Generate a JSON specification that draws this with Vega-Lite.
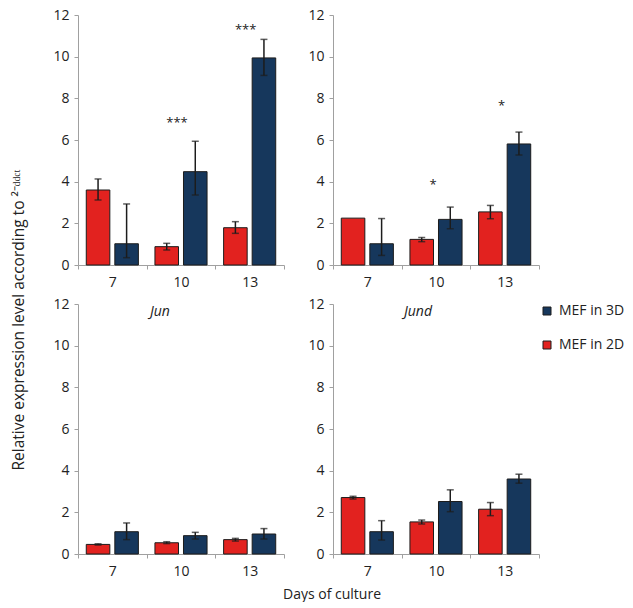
{
  "$schema": "https://vega.github.io/schema/vega-lite/v6.json",
  "padding": {"left": 12, "top": 8, "right": 0, "bottom": 0},
  "title": {"text": "Relative expression level according to ²⁻ᵈᵈᶜᵗ", "orient": "left", "anchor": "middle", "fontSize": 15.5, "fontWeight": "normal", "color": "#222", "offset": 25, "dx": -15, "font": "Open Sans"},
  "datasets": {
    "bars": [
      {"panel": "TL", "day": 7, "group": "MEF in 2D", "value": 3.6, "lo": 3.12, "hi": 4.13},
      {"panel": "TL", "day": 7, "group": "MEF in 3D", "value": 1.02, "lo": 0.35, "hi": 2.93},
      {"panel": "TL", "day": 10, "group": "MEF in 2D", "value": 0.88, "lo": 0.72, "hi": 1.04},
      {"panel": "TL", "day": 10, "group": "MEF in 3D", "value": 4.48, "lo": 3.36, "hi": 5.94},
      {"panel": "TL", "day": 13, "group": "MEF in 2D", "value": 1.79, "lo": 1.52, "hi": 2.08},
      {"panel": "TL", "day": 13, "group": "MEF in 3D", "value": 9.94, "lo": 9.1, "hi": 10.83},
      {"panel": "TR", "day": 7, "group": "MEF in 2D", "value": 2.25, "lo": null, "hi": null},
      {"panel": "TR", "day": 7, "group": "MEF in 3D", "value": 1.02, "lo": 0.46, "hi": 2.23},
      {"panel": "TR", "day": 10, "group": "MEF in 2D", "value": 1.23, "lo": 1.12, "hi": 1.32},
      {"panel": "TR", "day": 10, "group": "MEF in 3D", "value": 2.19, "lo": 1.74, "hi": 2.78},
      {"panel": "TR", "day": 13, "group": "MEF in 2D", "value": 2.55, "lo": 2.22, "hi": 2.86},
      {"panel": "TR", "day": 13, "group": "MEF in 3D", "value": 5.81, "lo": 5.28, "hi": 6.38},
      {"panel": "BL", "day": 7, "group": "MEF in 2D", "value": 0.46, "lo": 0.43, "hi": 0.49},
      {"panel": "BL", "day": 7, "group": "MEF in 3D", "value": 1.07, "lo": 0.69, "hi": 1.49},
      {"panel": "BL", "day": 10, "group": "MEF in 2D", "value": 0.54, "lo": 0.5, "hi": 0.59},
      {"panel": "BL", "day": 10, "group": "MEF in 3D", "value": 0.88, "lo": 0.72, "hi": 1.04},
      {"panel": "BL", "day": 13, "group": "MEF in 2D", "value": 0.69, "lo": 0.62, "hi": 0.75},
      {"panel": "BL", "day": 13, "group": "MEF in 3D", "value": 0.96, "lo": 0.72, "hi": 1.22},
      {"panel": "BR", "day": 7, "group": "MEF in 2D", "value": 2.71, "lo": 2.64, "hi": 2.77},
      {"panel": "BR", "day": 7, "group": "MEF in 3D", "value": 1.07, "lo": 0.67, "hi": 1.6},
      {"panel": "BR", "day": 10, "group": "MEF in 2D", "value": 1.54, "lo": 1.44, "hi": 1.63},
      {"panel": "BR", "day": 10, "group": "MEF in 3D", "value": 2.52, "lo": 2.03, "hi": 3.08},
      {"panel": "BR", "day": 13, "group": "MEF in 2D", "value": 2.15, "lo": 1.84, "hi": 2.47},
      {"panel": "BR", "day": 13, "group": "MEF in 3D", "value": 3.6, "lo": 3.4, "hi": 3.83}
    ],
    "notes": [
      {"panel": "TL", "day": 10, "y": 6.96, "label": "***"},
      {"panel": "TL", "day": 13, "y": 11.44, "label": "***"},
      {"panel": "TR", "day": 10, "y": 3.97, "label": "*"},
      {"panel": "TR", "day": 13, "y": 7.77, "label": "*"}
    ],
    "genes": [
      {"panel": "BL", "day": 10, "y": 11.6, "label": "Jun"},
      {"panel": "BR", "day": 10, "y": 11.6, "label": "Jund"}
    ]
  },
  "spacing": 8,
  "resolve": {"scale": {"color": "independent"}, "legend": {"color": "independent"}},
  "vconcat": [
    {
      "spacing": 22,
      "resolve": {"scale": {"color": "independent"}, "legend": {"color": "independent"}},
      "hconcat": [
        {
          "width": 206, "height": 250,
          "layer": [
            {"data": {"name": "bars"}, "transform": [{"filter": "datum.panel === 'TL'"}],
             "mark": {"type": "bar", "stroke": "#1c1c1c", "strokeWidth": 1},
             "encoding": {
               "x": {"field": "day", "type": "ordinal", "title": null, "scale": {"paddingInner": 0, "paddingOuter": 0}},
               "xOffset": {"field": "group", "type": "nominal", "sort": ["MEF in 2D", "MEF in 3D"], "scale": {"paddingInner": 0.175, "paddingOuter": 0.29}},
               "y": {"field": "value", "type": "quantitative", "title": null, "scale": {"domain": [0, 12]}, "axis": {"values": [0, 2, 4, 6, 8, 10, 12]}},
               "color": {"field": "group", "type": "nominal", "scale": {"domain": ["MEF in 3D", "MEF in 2D"], "range": ["#16375c", "#e2221f"]}, "legend": null}
             }},
            {"data": {"name": "bars"}, "transform": [{"filter": "datum.panel === 'TL'"}],
             "mark": {"type": "rule", "color": "#1c1c1c", "strokeWidth": 1.5},
             "encoding": {
               "x": {"field": "day", "type": "ordinal", "title": null},
               "xOffset": {"field": "group", "type": "nominal", "sort": ["MEF in 2D", "MEF in 3D"]},
               "y": {"field": "lo", "type": "quantitative", "title": null},
               "y2": {"field": "hi"}
             }},
            {"data": {"name": "bars"}, "transform": [{"filter": "datum.panel === 'TL'"}],
             "mark": {"type": "tick", "color": "#1c1c1c", "thickness": 1.5, "size": 7, "orient": "horizontal"},
             "encoding": {
               "x": {"field": "day", "type": "ordinal", "title": null},
               "xOffset": {"field": "group", "type": "nominal", "sort": ["MEF in 2D", "MEF in 3D"]},
               "y": {"field": "lo", "type": "quantitative", "title": null}
             }},
            {"data": {"name": "bars"}, "transform": [{"filter": "datum.panel === 'TL'"}],
             "mark": {"type": "tick", "color": "#1c1c1c", "thickness": 1.5, "size": 7, "orient": "horizontal"},
             "encoding": {
               "x": {"field": "day", "type": "ordinal", "title": null},
               "xOffset": {"field": "group", "type": "nominal", "sort": ["MEF in 2D", "MEF in 3D"]},
               "y": {"field": "hi", "type": "quantitative", "title": null}
             }},
            {"data": {"name": "notes"}, "transform": [{"filter": "datum.panel === 'TL'"}],
             "mark": {"type": "text", "fontSize": 13, "color": "#222", "baseline": "middle", "dx": -4, "dy": 3},
             "encoding": {
               "x": {"field": "day", "type": "ordinal", "title": null},
               "y": {"field": "y", "type": "quantitative", "title": null},
               "text": {"field": "label"}
             }}
          ]
        },
        {
          "width": 206, "height": 250,
          "layer": [
            {"data": {"name": "bars"}, "transform": [{"filter": "datum.panel === 'TR'"}],
             "mark": {"type": "bar", "stroke": "#1c1c1c", "strokeWidth": 1},
             "encoding": {
               "x": {"field": "day", "type": "ordinal", "title": null, "scale": {"paddingInner": 0, "paddingOuter": 0}},
               "xOffset": {"field": "group", "type": "nominal", "sort": ["MEF in 2D", "MEF in 3D"], "scale": {"paddingInner": 0.175, "paddingOuter": 0.29}},
               "y": {"field": "value", "type": "quantitative", "title": null, "scale": {"domain": [0, 12]}, "axis": {"values": [0, 2, 4, 6, 8, 10, 12]}},
               "color": {"field": "group", "type": "nominal", "scale": {"domain": ["MEF in 3D", "MEF in 2D"], "range": ["#16375c", "#e2221f"]}, "legend": null}
             }},
            {"data": {"name": "bars"}, "transform": [{"filter": "datum.panel === 'TR'"}],
             "mark": {"type": "rule", "color": "#1c1c1c", "strokeWidth": 1.5},
             "encoding": {
               "x": {"field": "day", "type": "ordinal", "title": null},
               "xOffset": {"field": "group", "type": "nominal", "sort": ["MEF in 2D", "MEF in 3D"]},
               "y": {"field": "lo", "type": "quantitative", "title": null},
               "y2": {"field": "hi"}
             }},
            {"data": {"name": "bars"}, "transform": [{"filter": "datum.panel === 'TR'"}],
             "mark": {"type": "tick", "color": "#1c1c1c", "thickness": 1.5, "size": 7, "orient": "horizontal"},
             "encoding": {
               "x": {"field": "day", "type": "ordinal", "title": null},
               "xOffset": {"field": "group", "type": "nominal", "sort": ["MEF in 2D", "MEF in 3D"]},
               "y": {"field": "lo", "type": "quantitative", "title": null}
             }},
            {"data": {"name": "bars"}, "transform": [{"filter": "datum.panel === 'TR'"}],
             "mark": {"type": "tick", "color": "#1c1c1c", "thickness": 1.5, "size": 7, "orient": "horizontal"},
             "encoding": {
               "x": {"field": "day", "type": "ordinal", "title": null},
               "xOffset": {"field": "group", "type": "nominal", "sort": ["MEF in 2D", "MEF in 3D"]},
               "y": {"field": "hi", "type": "quantitative", "title": null}
             }},
            {"data": {"name": "notes"}, "transform": [{"filter": "datum.panel === 'TR'"}],
             "mark": {"type": "text", "fontSize": 13, "color": "#222", "baseline": "middle", "dx": -3, "dy": 3},
             "encoding": {
               "x": {"field": "day", "type": "ordinal", "title": null},
               "y": {"field": "y", "type": "quantitative", "title": null},
               "text": {"field": "label"}
             }}
          ]
        }
      ]
    },
    {
      "spacing": 22,
      "resolve": {"scale": {"color": "independent"}, "legend": {"color": "independent"}},
      "title": {"text": "Days of culture", "orient": "bottom", "anchor": "middle", "fontSize": 14, "fontWeight": "normal", "color": "#222", "offset": 10, "dx": -7, "font": "Open Sans"},
      "hconcat": [
        {
          "width": 206, "height": 250,
          "layer": [
            {"data": {"name": "bars"}, "transform": [{"filter": "datum.panel === 'BL'"}],
             "mark": {"type": "bar", "stroke": "#1c1c1c", "strokeWidth": 1},
             "encoding": {
               "x": {"field": "day", "type": "ordinal", "title": null, "scale": {"paddingInner": 0, "paddingOuter": 0}},
               "xOffset": {"field": "group", "type": "nominal", "sort": ["MEF in 2D", "MEF in 3D"], "scale": {"paddingInner": 0.175, "paddingOuter": 0.29}},
               "y": {"field": "value", "type": "quantitative", "title": null, "scale": {"domain": [0, 12]}, "axis": {"values": [0, 2, 4, 6, 8, 10, 12]}},
               "color": {"field": "group", "type": "nominal", "scale": {"domain": ["MEF in 3D", "MEF in 2D"], "range": ["#16375c", "#e2221f"]}, "legend": null}
             }},
            {"data": {"name": "bars"}, "transform": [{"filter": "datum.panel === 'BL'"}],
             "mark": {"type": "rule", "color": "#1c1c1c", "strokeWidth": 1.5},
             "encoding": {
               "x": {"field": "day", "type": "ordinal", "title": null},
               "xOffset": {"field": "group", "type": "nominal", "sort": ["MEF in 2D", "MEF in 3D"]},
               "y": {"field": "lo", "type": "quantitative", "title": null},
               "y2": {"field": "hi"}
             }},
            {"data": {"name": "bars"}, "transform": [{"filter": "datum.panel === 'BL'"}],
             "mark": {"type": "tick", "color": "#1c1c1c", "thickness": 1.5, "size": 7, "orient": "horizontal"},
             "encoding": {
               "x": {"field": "day", "type": "ordinal", "title": null},
               "xOffset": {"field": "group", "type": "nominal", "sort": ["MEF in 2D", "MEF in 3D"]},
               "y": {"field": "lo", "type": "quantitative", "title": null}
             }},
            {"data": {"name": "bars"}, "transform": [{"filter": "datum.panel === 'BL'"}],
             "mark": {"type": "tick", "color": "#1c1c1c", "thickness": 1.5, "size": 7, "orient": "horizontal"},
             "encoding": {
               "x": {"field": "day", "type": "ordinal", "title": null},
               "xOffset": {"field": "group", "type": "nominal", "sort": ["MEF in 2D", "MEF in 3D"]},
               "y": {"field": "hi", "type": "quantitative", "title": null}
             }},
            {"data": {"name": "genes"}, "transform": [{"filter": "datum.panel === 'BL'"}],
             "mark": {"type": "text", "fontSize": 14, "fontStyle": "italic", "color": "#222", "baseline": "middle", "dx": -21},
             "encoding": {
               "x": {"field": "day", "type": "ordinal", "title": null},
               "y": {"field": "y", "type": "quantitative", "title": null},
               "text": {"field": "label"}
             }}
          ]
        },
        {
          "width": 206, "height": 250,
          "layer": [
            {"data": {"name": "bars"}, "transform": [{"filter": "datum.panel === 'BR'"}],
             "mark": {"type": "bar", "stroke": "#1c1c1c", "strokeWidth": 1},
             "encoding": {
               "x": {"field": "day", "type": "ordinal", "title": null, "scale": {"paddingInner": 0, "paddingOuter": 0}},
               "xOffset": {"field": "group", "type": "nominal", "sort": ["MEF in 2D", "MEF in 3D"], "scale": {"paddingInner": 0.175, "paddingOuter": 0.29}},
               "y": {"field": "value", "type": "quantitative", "title": null, "scale": {"domain": [0, 12]}, "axis": {"values": [0, 2, 4, 6, 8, 10, 12]}},
               "color": {"field": "group", "type": "nominal", "scale": {"domain": ["MEF in 3D", "MEF in 2D"], "range": ["#16375c", "#e2221f"]},
                 "legend": {"title": null, "orient": "right", "offset": 1, "padding": 0, "symbolType": "square", "symbolSize": 64, "symbolStrokeColor": "#1c1c1c", "symbolStrokeWidth": 1, "labelFontSize": 14, "labelColor": "#222", "labelFont": "Open Sans", "rowPadding": 20, "labelOffset": 5}}
             }},
            {"data": {"name": "bars"}, "transform": [{"filter": "datum.panel === 'BR'"}],
             "mark": {"type": "rule", "color": "#1c1c1c", "strokeWidth": 1.5},
             "encoding": {
               "x": {"field": "day", "type": "ordinal", "title": null},
               "xOffset": {"field": "group", "type": "nominal", "sort": ["MEF in 2D", "MEF in 3D"]},
               "y": {"field": "lo", "type": "quantitative", "title": null},
               "y2": {"field": "hi"}
             }},
            {"data": {"name": "bars"}, "transform": [{"filter": "datum.panel === 'BR'"}],
             "mark": {"type": "tick", "color": "#1c1c1c", "thickness": 1.5, "size": 7, "orient": "horizontal"},
             "encoding": {
               "x": {"field": "day", "type": "ordinal", "title": null},
               "xOffset": {"field": "group", "type": "nominal", "sort": ["MEF in 2D", "MEF in 3D"]},
               "y": {"field": "lo", "type": "quantitative", "title": null}
             }},
            {"data": {"name": "bars"}, "transform": [{"filter": "datum.panel === 'BR'"}],
             "mark": {"type": "tick", "color": "#1c1c1c", "thickness": 1.5, "size": 7, "orient": "horizontal"},
             "encoding": {
               "x": {"field": "day", "type": "ordinal", "title": null},
               "xOffset": {"field": "group", "type": "nominal", "sort": ["MEF in 2D", "MEF in 3D"]},
               "y": {"field": "hi", "type": "quantitative", "title": null}
             }},
            {"data": {"name": "genes"}, "transform": [{"filter": "datum.panel === 'BR'"}],
             "mark": {"type": "text", "fontSize": 14, "fontStyle": "italic", "color": "#222", "baseline": "middle", "dx": -18},
             "encoding": {
               "x": {"field": "day", "type": "ordinal", "title": null},
               "y": {"field": "y", "type": "quantitative", "title": null},
               "text": {"field": "label"}
             }}
          ]
        }
      ]
    }
  ],
  "config": {
    "font": "Open Sans",
    "view": {"stroke": null},
    "axis": {"domainColor": "#a0a0a0", "tickColor": "#a0a0a0", "labelColor": "#222", "labelFontSize": 14, "labelFont": "Open Sans", "grid": false, "tickSize": 4, "domainWidth": 1},
    "axisX": {"labelAngle": 0, "tickBand": "extent", "labelPadding": 6},
    "axisY": {"labelPadding": 5}
  }
}
